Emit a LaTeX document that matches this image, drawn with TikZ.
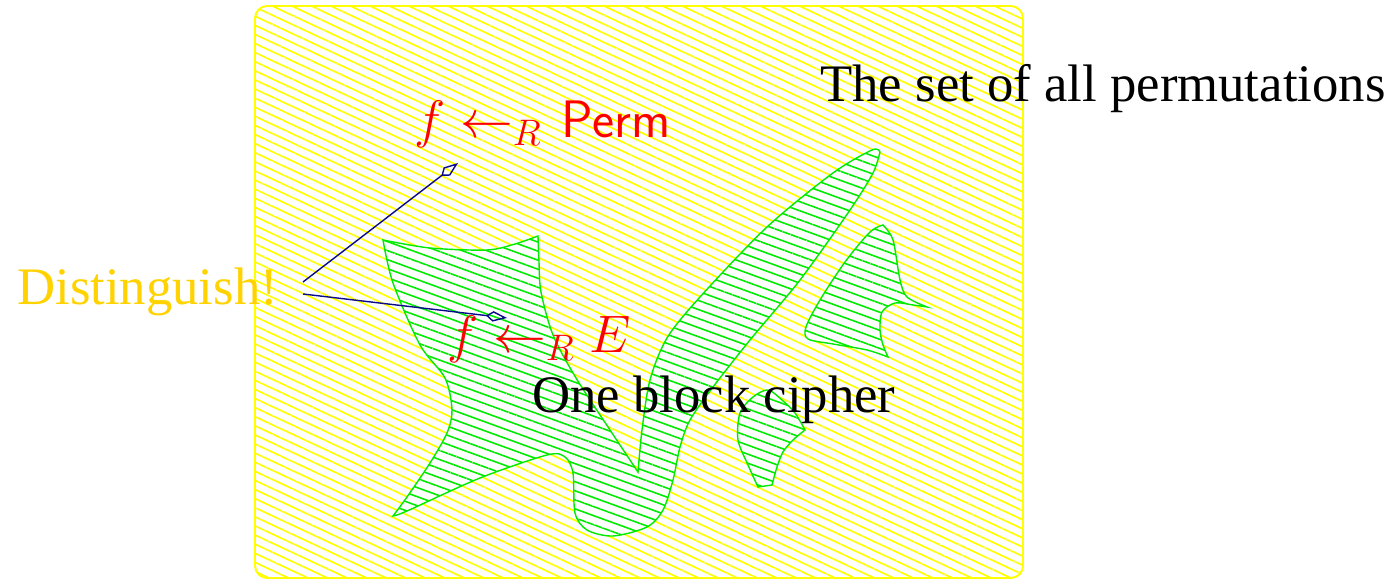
\RequirePackage{fix-cm}
\documentclass[tikz,border=0pt]{standalone}
\usepackage{fontspec}
\setmainfont{Liberation Serif}
\usetikzlibrary{arrows.meta,patterns.meta}
\definecolor{yellow}{RGB}{255,255,0}
\definecolor{green}{RGB}{0,235,0}
\definecolor{red}{RGB}{255,0,0}
\definecolor{navy}{RGB}{10,10,140}
\definecolor{gold}{RGB}{255,210,0}

\begin{document}
\begin{tikzpicture}[x=0.2mm, y=0.2mm, font=\fontsize{30}{36}\selectfont,
		label/.style={inner sep=0pt, anchor=base west},
		allperm/.style={draw=yellow, line width=1.1pt, rounded corners=7pt,
			pattern={Lines[angle=-25,distance=1.65mm,line width=0.95pt]}, pattern color=yellow},
		cipher/.style={draw=green, line width=0.8pt, preaction={fill=white},
			pattern={Lines[angle=-20,distance=1.7mm,line width=0.9pt]}, pattern color=green},
		pointer/.style={draw=navy, line width=0.8pt, -{Kite[open,length=12pt,width=6pt,inset=4pt]}}]
				\useasboundingbox (0,0) rectangle (1397,-580);
				% Draw set of all permutations
				\draw[allperm] (255,-6) rectangle (1023,-578);
				% Draw block cipher regions
				\draw[cipher] plot[smooth] coordinates {(383,-240) (430,-248) (487,-250) (515,-244) (538,-236)}
					-- plot[smooth] coordinates {(538,-236) (539,-262) (541,-292) (553,-335) (576,-378) (610,-430) (638,-472)}
					-- plot[smooth] coordinates {(638,-472) (642,-430) (650,-380) (667,-338) (700,-297) (767,-227) (833,-173) (872,-150) (880,-152)}
					-- plot[smooth] coordinates {(880,-152) (873,-173) (850,-210) (800,-280) (750,-340) (713,-387) (690,-420) (680,-447) (673,-480) (663,-510) (647,-527) (613,-536) (587,-530) (575,-513) (573,-473) (565,-457) (547,-455) (480,-478) (407,-511) (393,-516)}
					-- plot[smooth] coordinates {(393,-516) (407,-497) (430,-463) (447,-433) (452,-410) (445,-378) (420,-345) (393,-283) (383,-240)}
					-- cycle;
				\draw[cipher] plot[smooth] coordinates {(883,-225) (893,-240) (900,-280) (907,-297) (927,-307)}
					-- plot[smooth] coordinates {(927,-307) (913,-305) (895,-303) (882,-312) (880,-330) (883,-345) (888,-357)}
					-- plot[smooth] coordinates {(888,-357) (867,-350) (833,-344) (808,-339) (806,-327) (820,-300) (845,-262) (870,-232) (883,-225)}
					-- cycle;
				\draw[cipher] plot[smooth] coordinates {(758,-487) (748,-465) (738,-440) (740,-413) (753,-397) (768,-390) (782,-400) (795,-413) (805,-430)}
					-- plot[smooth] coordinates {(805,-430) (793,-440) (783,-452) (777,-467) (772,-485)}
					-- cycle;
				% Labels
				\node[label] (perms) at (820,-102) {The set of all permutations};
				\node[label, text=gold] (dist) at (17,-305) {Distinguish!};
				\node[label, text=red] (ideal) at (414,-138) {$f \leftarrow_R \mkern2mu\textsf{Perm}$};
				\node[label, text=red] (real) at (447,-353) {$f \leftarrow_R E$};
				\node[label] (one) at (532,-413) {One block cipher};
				% Pointers
				\coordinate (d1) at (303,-282);
				\coordinate (d2) at (303,-294);
				\coordinate (p1) at (458,-163);
				\coordinate (p2) at (507,-318);
				\draw[pointer] (d1) -- (p1);
				\draw[pointer] (d2) -- (p2);
			\end{tikzpicture}
\end{document}
